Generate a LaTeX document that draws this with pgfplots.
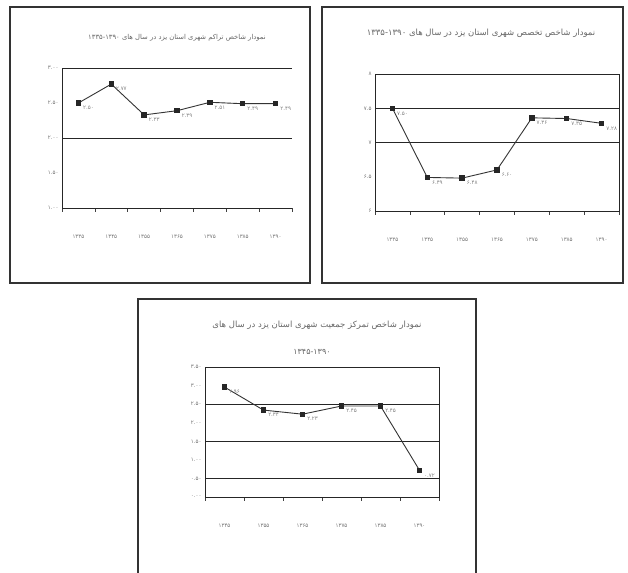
\documentclass[border=0pt]{standalone}
\usepackage{fontspec}
\usepackage{pgfplots}
\pgfplotsset{compat=1.18}
\TeXXeTstate=1
\newfontfamily\arabicfont[Script=Arabic]{DejaVu Sans}
\newfontfamily\fanum{DejaVu Sans}

\pgfplotsset{
  yzd/.style={
    scale only axis,
    anchor=south west,
    clip=false,
    axis line style={black!85, line width=0.9pt},
    major tick length=0pt,
    minor tick length=3.5pt,
    tick style={black!75, line width=0.6pt},
    tick align=outside,
    xtick pos=bottom, ytick pos=left,
    xtick=data,
    xmin=-0.5,
    xticklabel style={font=\fanum\fontsize{5.5}{6}\selectfont, text=black!55, yshift=-23pt},
    yticklabel style={font=\fanum\fontsize{5.5}{6}\selectfont, text=black!55},
    extra y tick labels={},
    extra y tick style={grid=major, major grid style={black!85, line width=0.9pt}},
    nodes near coords,
    point meta=explicit symbolic,
    every node near coord/.append style={font=\fanum\fontsize{5.5}{6}\selectfont, text=black!50, anchor=west, xshift=1pt, yshift=-5pt},
  },
  yzdline/.style={black!80, line width=0.9pt, mark=square*, mark size=2.2pt, mark options={solid, fill=black!85, draw=black!85}},
}

\begin{document}
\begin{tikzpicture}
\path[use as bounding box] (0,0) rectangle (628pt,-572pt);

% frames
\draw[black!80, line width=1.3pt] (10pt,-7pt) rectangle (310pt,-283pt);
\draw[black!80, line width=1.3pt] (322pt,-7pt) rectangle (623pt,-283pt);
\draw[black!80, line width=1.3pt] (138pt,-299pt) rectangle (476pt,-590pt);

% titles
\node[text=black!60, font=\arabicfont\fontsize{6.8}{8}\selectfont] at (177pt,-38pt)
  {\beginR نمودار شاخص تراکم شهری استان یزد در سال های \beginL ۱۳۳۵-۱۳۹۰\endL{}\endR};
\node[text=black!60, font=\arabicfont\fontsize{8.5}{9}\selectfont] at (481pt,-33pt)
  {\beginR نمودار شاخص تخصص شهری استان یزد در سال های \beginL ۱۳۳۵-۱۳۹۰\endL{}\endR};
\node[text=black!60, font=\arabicfont\fontsize{8.5}{9}\selectfont] at (317pt,-325pt)
  {\beginR نمودار شاخص تمرکز جمعیت شهری استان یزد در سال های\endR};
\node[text=black!60, font=\arabicfont\fontsize{8}{9}\selectfont] at (312pt,-352pt)
  {\beginL ۱۳۴۵-۱۳۹۰\endL};

% chart 1
\begin{axis}[yzd, at={(62pt,-208pt)}, width=230pt, height=140pt,
  axis x line*=bottom, axis y line*=left,
  xmax=6.5, ymin=1, ymax=3,
  ytick={1,1.5,2,2.5,3},
  yticklabels={۱.۰۰,۱.۵۰,۲.۰۰,۲.۵۰,۳.۰۰},
  xticklabels={۱۳۳۵,۱۳۴۵,۱۳۵۵,۱۳۶۵,۱۳۷۵,۱۳۸۵,۱۳۹۰},
  minor xtick={-0.5,0.5,1.5,2.5,3.5,4.5,5.5,6.5},
  extra y ticks={2,3}]
\addplot[yzdline] coordinates {(0,2.50) [۲.۵۰] (1,2.77) [۲.۷۷] (2,2.33) [۲.۳۳] (3,2.39) [۲.۳۹] (4,2.51) [۲.۵۱] (5,2.49) [۲.۴۹] (6,2.49) [۲.۴۹]};
\end{axis}

% chart 2
\begin{axis}[yzd, at={(375pt,-211pt)}, width=244pt, height=137pt,
  xmax=6.5, ymin=6, ymax=8,
  ytick={6,6.5,7,7.5,8},
  yticklabels={۶,۶.۵,۷,۷.۵,۸},
  xticklabels={۱۳۳۵,۱۳۴۵,۱۳۵۵,۱۳۶۵,۱۳۷۵,۱۳۸۵,۱۳۹۰},
  minor xtick={-0.5,0.5,1.5,2.5,3.5,4.5,5.5,6.5},
  extra y ticks={7,7.5}]
\addplot[yzdline] coordinates {(0,7.50) [۷.۵۰] (1,6.49) [۶.۴۹] (2,6.48) [۶.۴۸] (3,6.60) [۶.۶۰] (4,7.36) [۷.۳۶] (5,7.35) [۷.۳۵] (6,7.28) [۷.۲۸]};
\end{axis}

% chart 3
\begin{axis}[yzd, at={(205pt,-497pt)}, width=234pt, height=130pt,
  xmax=5.5, ymin=0, ymax=3.5,
  ytick={0,0.5,1,1.5,2,2.5,3,3.5},
  yticklabels={۰.۰۰,۰.۵۰,۱.۰۰,۱.۵۰,۲.۰۰,۲.۵۰,۳.۰۰,۳.۵۰},
  xticklabels={۱۳۴۵,۱۳۵۵,۱۳۶۵,۱۳۷۵,۱۳۸۵,۱۳۹۰},
  minor xtick={-0.5,0.5,1.5,2.5,3.5,4.5,5.5},
  extra y ticks={0.5,1.5,2.5}]
\addplot[yzdline] coordinates {(0,2.96) [۲.۹۶] (1,2.34) [۲.۳۴] (2,2.23) [۲.۲۳] (3,2.45) [۲.۴۵] (4,2.45) [۲.۴۵] (5,0.72) [۰.۷۲]};
\end{axis}
\end{tikzpicture}
\end{document}
